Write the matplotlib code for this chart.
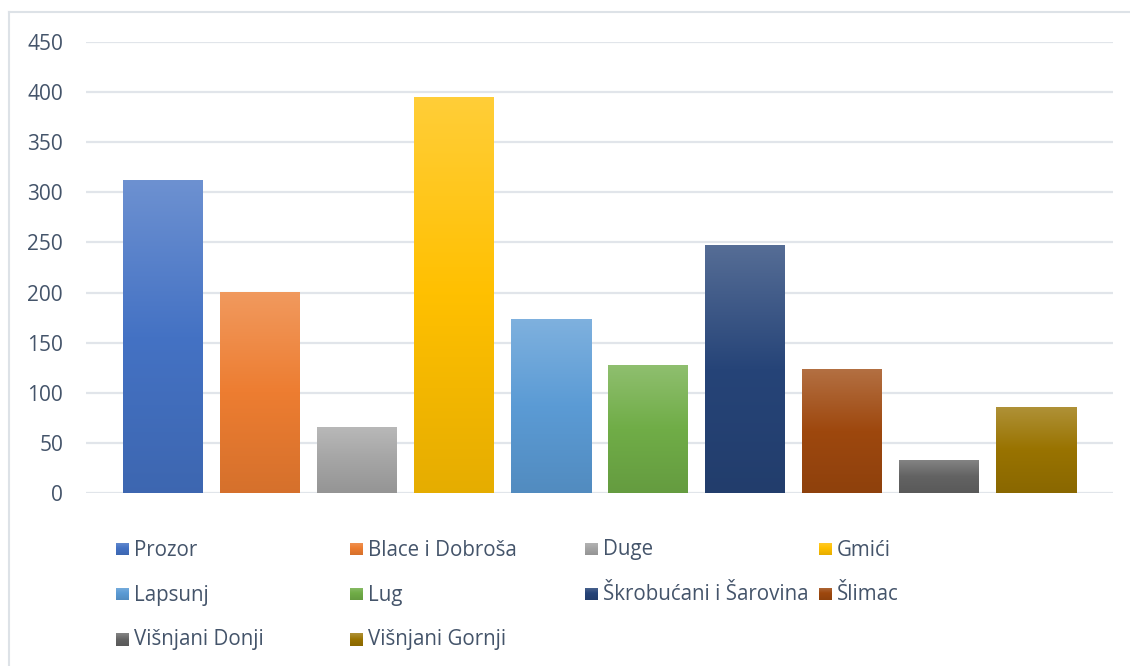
import numpy as np
import matplotlib.pyplot as plt
import matplotlib.colors as mcolors
from matplotlib.lines import Line2D

plt.rcParams['font.family'] = ['Open Sans', 'DejaVu Sans']

names = ['Prozor', 'Blace i Dobroša', 'Duge', 'Gmići', 'Lapsunj', 'Lug',
         'Škrobućani i Šarovina', 'Šlimac', 'Višnjani Donji', 'Višnjani Gornji']
values = [312, 201, 66, 395, 174, 128, 247, 124, 33, 86]
colors = ['#4472C4', '#ED7D31', '#A5A5A5', '#FFC000', '#5B9BD5', '#70AD47',
          '#264478', '#9E480E', '#636363', '#997300']
yticks = [0, 50, 100, 150, 200, 250, 300, 350, 400, 450]

text_col = '#44546A'
grid_col = '#E1E5EA'


def grad_cmap(c):
    base = np.array(mcolors.to_rgb(c))
    light = base + (1 - base) * 0.22
    dark = base * 0.9
    # bottom -> top
    return mcolors.LinearSegmentedColormap.from_list(
        'g', [(0, dark), (0.5, base), (1, light)])


fig = plt.figure(figsize=(11.3, 6.66), dpi=100)
W, H = 1130, 666
ax = fig.add_axes([86 / W, 1 - 493 / H, (1113 - 86) / W, (493 - 42) / H])

x = np.arange(len(names))
bw = 80 / 97
grad = np.linspace(0, 1, 256).reshape(-1, 1)
for xi, v, c in zip(x, values, colors):
    bar = ax.bar(xi, v, width=bw, color=c, zorder=2)[0]
    im = ax.imshow(grad, cmap=grad_cmap(c), origin='lower', aspect='auto',
                   extent=[xi - bw / 2, xi + bw / 2, 0, v], zorder=3)
    im.set_clip_path(bar)

ax.set_xlim(-77 / 97, 9 + 77 / 97)
ax.set_ylim(0, 450)
ax.set_yticks(yticks)
ax.set_xticks([])
ax.yaxis.grid(True, color=grid_col, linewidth=1.6, zorder=0)
ax.set_axisbelow(True)
for s in ax.spines.values():
    s.set_visible(False)
ax.tick_params(axis='y', length=0, pad=16.5, labelsize=15, labelcolor=text_col)
for lab in ax.get_yticklabels():
    lab.set_horizontalalignment('right')

# legend laid out like the original: 4 equal columns
col_x = 116
col_step = 234.3
row_y = 549
row_step = 45
sq = 13
for i, (n, c) in enumerate(zip(names, colors)):
    r, k = divmod(i, 4)
    lx = col_x + k * col_step
    ly = row_y + r * row_step
    rax = fig.add_axes([lx / W, 1 - (ly + sq / 2) / H, sq / W, sq / H])
    rax.imshow(grad, cmap=grad_cmap(c), origin='lower', aspect='auto',
               extent=[0, 1, 0, 1])
    rax.set_axis_off()
    fig.text((lx + sq + 5) / W, 1 - (ly + 1) / H, n, fontsize=14.8,
             color=text_col, va='center', ha='left')

# chart frame (top and left visible)
fig.add_artist(Line2D([9 / W, 1], [1 - 12 / H, 1 - 12 / H],
                      color='#DDE2E7', linewidth=1.5))
fig.add_artist(Line2D([9 / W, 9 / W], [0, 1 - 12 / H],
                      color='#DDE2E7', linewidth=1.5))

fig.savefig('out.png', dpi=100, facecolor='white')
